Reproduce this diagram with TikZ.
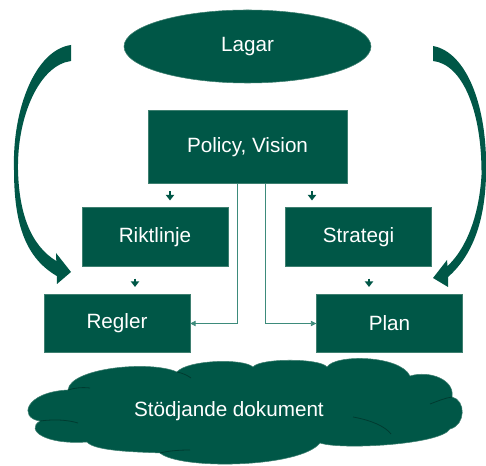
\documentclass[tikz,border=0pt]{standalone}
\usepackage{fontspec}
\setmainfont{Liberation Sans}
\usetikzlibrary{arrows.meta,positioning,calc,shapes.geometric}
\definecolor{DeepGreen}{HTML}{005747}
\definecolor{EdgeGreen}{HTML}{3E7F70}
\definecolor{LinkTeal}{HTML}{3D8B7B}
\definecolor{FoldGreen}{HTML}{003B30}

\begin{document}
\begin{tikzpicture}[
	x=0.75pt, y=-0.75pt,
	block/.style={
		draw=EdgeGreen,
		fill=DeepGreen,
		line width=0.4pt,
		minimum width=109.5pt,
		minimum height=43.9pt,
		text=white,
		font=\fontsize{15.5}{18}\selectfont,
		inner sep=2pt
	},
	tick/.style={
		-{Triangle[length=4.2pt,width=6.2pt]},
		line width=1.8pt,
		draw=DeepGreen,
		shorten <=5.25pt,
		shorten >=5.25pt
	},
	feed/.style={
		-{Triangle[length=4pt,width=4pt]},
		line width=0.6pt,
		draw=LinkTeal
	},
	sweep/.style={fill=DeepGreen},
	fold/.style={draw=FoldGreen, line width=0.6pt}
]
\useasboundingbox (0,0) rectangle (486,466);

\node[block, ellipse, minimum width=185.25pt, minimum height=54.75pt] (lagar) at (247.5,46.5) {Lagar};

\node[block, minimum width=149.25pt, minimum height=54.75pt, below=20.25pt of lagar] (policy) {Policy, Vision};

\node[block] (riktlinje) at (155,237) {Riktlinje};
\node[block, right=42.75pt of riktlinje] (strategi) {Strategi};

\node[block] (regler) at (117,323.5) {Regler};
\node[block, right=94.5pt of regler] (plan) {Plan};

\filldraw[fill=DeepGreen, draw=EdgeGreen, line width=0.4pt]
	(68,390) .. controls (70,368) and (150,360) .. (177,372)
	.. controls (187,360) and (243,358) .. (253,367)
	.. controls (260,358) and (320,358) .. (327,367)
	.. controls (335,354) and (400,355) .. (410,376)
	.. controls (430,370) and (455,380) .. (452,397)
	.. controls (466,400) and (466,425) .. (450,429)
	.. controls (440,445) and (340,450) .. (320,443)
	.. controls (300,468) and (180,470) .. (160,453)
	.. controls (145,452) and (95,452) .. (87,442)
	.. controls (45,445) and (25,430) .. (40,421)
	.. controls (18,418) and (25,392) .. (68,390) -- cycle;
\draw[fold] (40,421) .. controls (55,419) and (68,420) .. (78,423);
\draw[fold] (68,390) .. controls (74,388) and (82,387) .. (90,388);
\draw[fold] (177,372) .. controls (182,373) and (187,375) .. (191,378);
\draw[fold] (430,404) .. controls (438,401) and (445,398) .. (452,397);
\draw[fold] (353,417) .. controls (370,420) and (385,426) .. (391,434);
\draw[fold] (160,453) .. controls (168,451) and (178,450) .. (190,450);

\node[text=white, font=\fontsize{15.5}{18}\selectfont] (stod) at (229,411) {Stödjande dokument};

\draw[tick] (policy.south -| 170,0) -- (riktlinje.north -| 170,0);
\draw[tick] (policy.south -| 312,0) -- (strategi.north -| 312,0);
\draw[tick, shorten <=9pt] (riktlinje.south -| 135,0) -- (regler.north -| 135,0);
\draw[tick, shorten <=9pt] (strategi.south -| 369,0) -- (plan.north -| 369,0);

\draw[feed] ($(policy.south)+(-10.5,0)$) |- (regler);
\draw[feed] ($(policy.south)+(17.5,0)$) |- (plan);

\fill[sweep] (71,45) .. controls (35,50) and (12,110) .. (14,170)
	.. controls (14,225) and (26,258) .. (56.8,276)
	-- (57,284) -- (71,272) -- (56,253) -- (56.3,261)
	.. controls (30,245) and (19,212) .. (18,170)
	.. controls (17,115) and (40,65) .. (71,61) -- cycle;

\fill[sweep] (433,46) .. controls (466,52) and (488,105) .. (486,175)
	.. controls (485,222) and (472,256) .. (448,277)
	-- (448,287) -- (433,278) -- (447,260) -- (447.5,266)
	.. controls (465,250) and (479,218) .. (481.5,175)
	.. controls (482,110) and (462,64) .. (433,61) -- cycle;

\end{tikzpicture}
\end{document}
